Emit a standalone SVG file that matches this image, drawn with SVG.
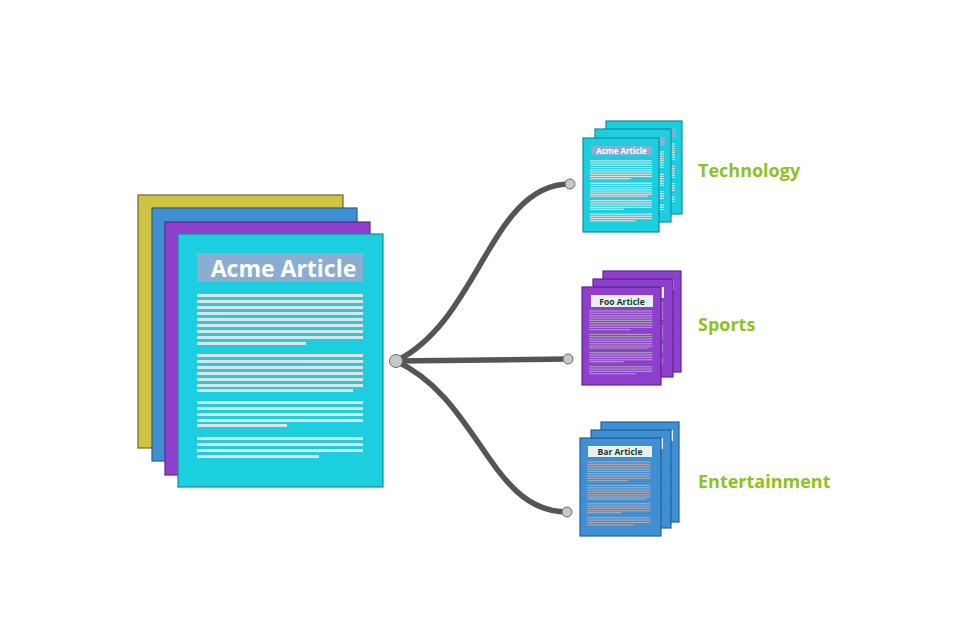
<svg xmlns="http://www.w3.org/2000/svg" xmlns:xlink="http://www.w3.org/1999/xlink" width="964" height="642" viewBox="0 0 964 642">
<style>
.lbl{font-family:"Open Sans","Liberation Sans",sans-serif;font-weight:700;font-size:18px;fill:#8dc21f}
.ttl{font-family:"Open Sans","Liberation Sans",sans-serif;font-weight:700;text-anchor:middle}
.conn{fill:none;stroke:#555;stroke-width:5.5;stroke-linecap:round}
.dot{fill:#c8c8c8;stroke:#6a6a6a;stroke-width:1}
.cy{fill:#1bcfe1;stroke:#1a8a96;stroke-width:1.2}
.pu{fill:#8e40cc;stroke:#5e2590;stroke-width:1.2}
.bl{fill:#3f8fd2;stroke:#245f95;stroke-width:1.2}
.ye{fill:#cfc542;stroke:#6f6428;stroke-width:1.2}
</style>
<defs>
<symbol id="lines" overflow="visible">
<rect x="19" y="60" width="166" height="3"/><rect x="19" y="66" width="166" height="3"/><rect x="19" y="72" width="166" height="3"/><rect x="19" y="78" width="166" height="3"/><rect x="19" y="84" width="166" height="3"/><rect x="19" y="90" width="166" height="3"/><rect x="19" y="96" width="166" height="3"/><rect x="19" y="102" width="166" height="3"/><rect x="19" y="108" width="109" height="3"/>
<rect x="19" y="120" width="166" height="3"/><rect x="19" y="126" width="166" height="3"/><rect x="19" y="132" width="166" height="3"/><rect x="19" y="138" width="166" height="3"/><rect x="19" y="144" width="166" height="3"/><rect x="19" y="150" width="166" height="3"/><rect x="19" y="155" width="156" height="3"/>
<rect x="19" y="167" width="166" height="3"/><rect x="19" y="173" width="166" height="3"/><rect x="19" y="179" width="166" height="3"/><rect x="19" y="185" width="166" height="3"/><rect x="19" y="190" width="90" height="3"/>
<rect x="19" y="203" width="166" height="3"/><rect x="19" y="209" width="166" height="3"/><rect x="19" y="215" width="166" height="3"/><rect x="19" y="221" width="122" height="3"/>
</symbol>
</defs>
<rect width="964" height="642" fill="#ffffff"/>

<g id="connectors">
<path class="conn" d="M396 361 C480 320 490 184 570 184"/>
<path class="conn" d="M396 361 L568 359"/>
<path class="conn" d="M396 361 C480 400 490 512 567 512"/>
<circle class="dot" cx="570" cy="184" r="5"/>
<circle class="dot" cx="568" cy="359" r="5"/>
<circle class="dot" cx="567" cy="512" r="5"/>
<circle class="dot" cx="396" cy="361" r="6.5"/>
</g>

<g id="acme-article">
<rect class="ye" x="138" y="195" width="205" height="253"/>
<rect class="bl" x="152" y="208" width="205" height="253"/>
<rect class="pu" x="165" y="222" width="205" height="253"/>
<rect class="cy" x="178" y="234" width="205" height="253"/>
<rect x="197" y="253" width="166" height="29" fill="#8aaed0"/>
<text class="ttl" x="283.5" y="277" font-size="23" fill="#ffffff">Acme Article</text>
<use xlink:href="#lines" href="#lines" transform="translate(178,234)" fill="#e2e2e2"/>
</g>

<g id="technology-stack">
<rect class="cy" x="606" y="121" width="76" height="93"/>
<rect x="614" y="129" width="62" height="9" fill="#8aaed0"/>
<use href="#lines" transform="translate(606,121) scale(0.372)" fill="#e2e2e2"/>
<rect class="cy" x="595" y="129" width="76" height="93"/>
<rect x="603" y="137" width="62" height="9" fill="#8aaed0"/>
<use href="#lines" transform="translate(595,129) scale(0.372)" fill="#e2e2e2"/>
<rect class="cy" x="583" y="138" width="76" height="94"/>
<rect x="591" y="146" width="61" height="9" fill="#8aaed0"/>
<text class="ttl" x="621.5" y="153.5" font-size="8" fill="#ffffff">Acme Article</text>
<use href="#lines" transform="translate(583,138) scale(0.372)" fill="#e2e2e2"/>
</g>
<g id="technology-label"><text class="lbl" x="698" y="177">Technology</text></g>

<g id="sports-stack">
<rect class="pu" x="603" y="271" width="78" height="101"/>
<rect x="611" y="279" width="63" height="11" fill="#e8f0ef"/>
<use href="#lines" transform="translate(603,271) scale(0.38,0.39)" fill="#a99cb8"/>
<rect class="pu" x="593" y="279" width="80" height="98"/>
<rect x="601" y="287" width="63" height="11" fill="#e8f0ef"/>
<use href="#lines" transform="translate(593,279) scale(0.38,0.39)" fill="#a99cb8"/>
<rect class="pu" x="582" y="287" width="79" height="98"/>
<rect x="591" y="295" width="62" height="12" fill="#e8f0ef"/>
<text class="ttl" x="622" y="304.5" font-size="8.5" fill="#173a2c">Foo Article</text>
<use href="#lines" transform="translate(582,287) scale(0.38,0.39)" fill="#a99cb8"/>
</g>
<g id="sports-label"><text class="lbl" x="698" y="331">Sports</text></g>

<g id="entertainment-stack">
<rect class="bl" x="601" y="422" width="78" height="100"/>
<rect x="609" y="430" width="64" height="11" fill="#e8f0ef"/>
<use href="#lines" transform="translate(601,422) scale(0.38,0.39)" fill="#a8a8b4"/>
<rect class="bl" x="591" y="430" width="80" height="98"/>
<rect x="599" y="438" width="64" height="11" fill="#e8f0ef"/>
<use href="#lines" transform="translate(591,430) scale(0.38,0.39)" fill="#a8a8b4"/>
<rect class="bl" x="580" y="438" width="81" height="98"/>
<rect x="588" y="446" width="64" height="11" fill="#e8f0ef"/>
<text class="ttl" x="620" y="455" font-size="8.5" fill="#173a2c">Bar Article</text>
<use href="#lines" transform="translate(580,438) scale(0.38,0.39)" fill="#a8a8b4"/>
</g>
<g id="entertainment-label"><text class="lbl" x="698" y="488">Entertainment</text></g>
</svg>
